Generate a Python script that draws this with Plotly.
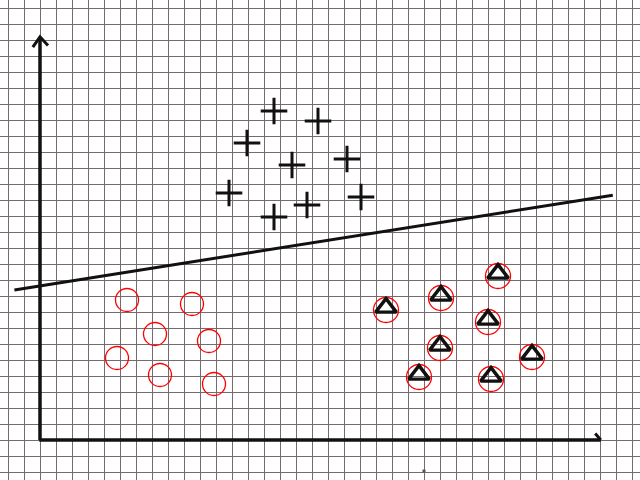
import plotly.graph_objects as go

# Data in grid units (origin at axis intersection, 1 unit = 1 grid square)
plus_x = [14.625, 17.375, 12.9375, 15.75, 19.1875, 11.8125, 20.0625, 16.6875, 14.625]
plus_y = [20.5625, 19.9375, 18.5625, 17.1875, 17.5625, 15.4375, 15.1875, 14.6875, 13.9375]

tri_x = [21.625, 25.0625, 28.625, 28.0, 25.0, 30.75, 23.6875, 28.1875]
tri_y = [8.125, 8.875, 10.25, 7.375, 5.75, 5.1875, 3.9375, 3.8125]

circ_x = [5.4375, 9.5, 7.1875, 10.5625, 4.8125, 7.5, 10.875]
circ_y = [8.75, 8.5, 6.625, 6.1875, 5.125, 4.0625, 3.5]

speck_x = [24.0]
speck_y = [-1.94]

sep_x = [-1.6, 35.8]
sep_y = [9.375, 15.3]

yaxis_x = [0, 0]
yaxis_y = [0, 25.2]
yhead_x = [-0.45, 0, 0.5]
yhead_y = [24.55, 25.2, 24.65]
xaxis_x = [-0.05, 35.05]
xaxis_y = [0, 0]
xhead_x = [34.7, 35.05]
xhead_y = [0.4, 0]

fig = go.Figure()
blk = "#111111"
fig.add_trace(go.Scatter(x=yaxis_x, y=yaxis_y, mode="lines", line=dict(color=blk, width=3.5)))
fig.add_trace(go.Scatter(x=yhead_x, y=yhead_y, mode="lines", line=dict(color=blk, width=3)))
fig.add_trace(go.Scatter(x=xaxis_x, y=xaxis_y, mode="lines", line=dict(color=blk, width=3.5)))
fig.add_trace(go.Scatter(x=xhead_x, y=xhead_y, mode="lines", line=dict(color=blk, width=3)))
fig.add_trace(go.Scatter(x=sep_x, y=sep_y, mode="lines", line=dict(color=blk, width=3)))

fig.add_trace(go.Scatter(x=plus_x, y=plus_y, mode="markers",
                         marker=dict(symbol="cross-thin", size=19, line=dict(color=blk, width=3))))
fig.add_trace(go.Scatter(x=circ_x, y=circ_y, mode="markers",
                         marker=dict(symbol="circle-open", size=23, color="#ff0000", line=dict(color="#ff0000", width=1.3))))
fig.add_trace(go.Scatter(x=tri_x, y=tri_y, mode="markers",
                         marker=dict(symbol="circle-open", size=25, color="#ff0000", line=dict(color="#ff0000", width=1.3))))
fig.add_trace(go.Scatter(x=tri_x, y=[v + 0.15 for v in tri_y], mode="markers",
                         marker=dict(symbol="triangle-up-open", size=18, color=blk, line=dict(color=blk, width=3.4))))
fig.add_trace(go.Scatter(x=speck_x, y=speck_y, mode="markers",
                         marker=dict(symbol="square", size=3, color="#555555", line=dict(width=0))))

grid = dict(showgrid=True, gridcolor="#776a6f", gridwidth=1, tickmode="linear", dtick=1, tick0=0,
            showticklabels=False, zeroline=False, showline=False, ticks="", fixedrange=True)
fig.update_xaxes(range=[-2.5, 37.5], **grid)
fig.update_yaxes(range=[-2.5, 27.5], **grid)
fig.update_layout(width=640, height=480, margin=dict(l=0, r=0, t=0, b=0),
                  plot_bgcolor="white", paper_bgcolor="white", showlegend=False)
fig.write_html("out.html", config={"displayModeBar": False},
               post_script="document.body.style.margin='0';document.body.style.overflow='hidden';")
